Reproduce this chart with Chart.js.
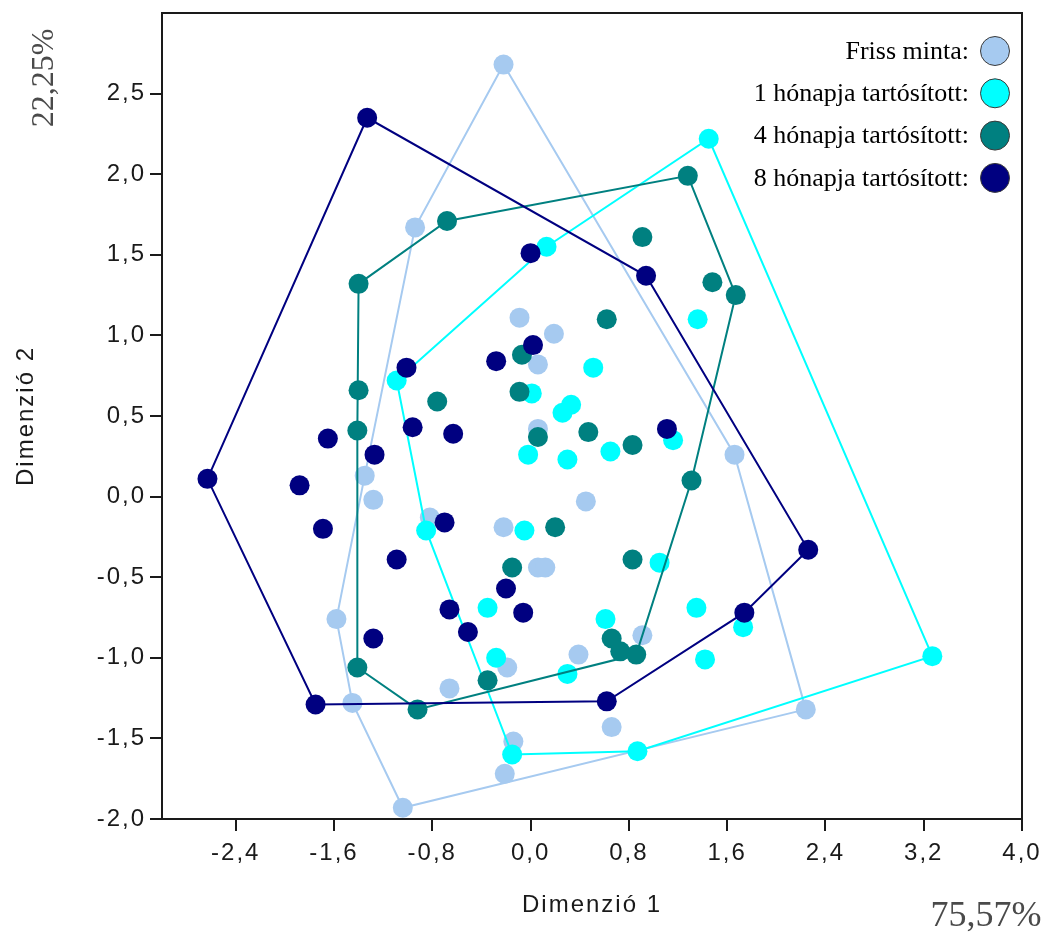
<!DOCTYPE html>
<html>
<head>
<meta charset="utf-8">
<script src="https://cdn.jsdelivr.net/npm/chart.js@4/dist/chart.umd.min.js"></script>
<style>
  html, body { margin: 0; padding: 0; background: #ffffff; }
  #wrap { width: 1049px; height: 940px; position: relative; }
</style>
</head>
<body>
<div id="wrap"><canvas id="chart" width="1049" height="940"></canvas></div>
<script>
// Group names and colours, in legend order
const seriesNames = ['Friss minta:', '1 hónapja tartósított:', '4 hónapja tartósított:', '8 hónapja tartósított:'];
const seriesColors = ['#a6caf0', '#00ffff', '#008080', '#000080'];

// Sample coordinates [Dimenzió 1, Dimenzió 2] per storage group
const frissMinta = [
  [-0.22, 2.68], [-0.94, 1.67], [-0.09, 1.11], [0.19, 1.01], [0.06, 0.82],
  [0.06, 0.42], [-1.35, 0.13], [-1.28, -0.02], [0.45, -0.03], [-0.22, -0.19],
  [0.06, -0.44], [0.12, -0.44], [-1.58, -0.76], [0.91, -0.86], [0.39, -0.98],
  [-0.19, -1.06], [-0.66, -1.19], [-1.45, -1.28], [0.66, -1.43], [-0.14, -1.52],
  [-0.21, -1.72], [-1.04, -1.93], [2.24, -1.32], [1.66, 0.26], [-0.82, -0.13]
];
const egyHonap = [
  [1.45, 2.22], [0.13, 1.55], [1.36, 1.10], [0.51, 0.80], [-1.09, 0.72],
  [0.01, 0.64], [0.26, 0.52], [0.33, 0.57], [1.16, 0.35], [0.65, 0.28],
  [0.30, 0.23], [-0.02, 0.26], [-0.85, -0.21], [-0.05, -0.21], [1.05, -0.41],
  [1.35, -0.69], [0.61, -0.76], [-0.35, -0.69], [-0.28, -1.00], [0.30, -1.10],
  [-0.15, -1.60], [0.87, -1.58], [1.42, -1.01], [1.73, -0.81], [3.27, -0.99]
];
const negyHonap = [
  [1.28, 1.99], [-0.68, 1.71], [0.91, 1.61], [1.48, 1.33], [1.67, 1.25],
  [-1.40, 1.32], [0.62, 1.10], [-0.07, 0.88], [-1.40, 0.66], [-0.76, 0.59],
  [-0.09, 0.65], [0.47, 0.40], [0.83, 0.32], [-1.41, 0.41], [0.06, 0.37],
  [1.31, 0.10], [0.20, -0.19], [-0.15, -0.44], [0.83, -0.39], [0.66, -0.88],
  [0.73, -0.96], [0.86, -0.98], [-0.35, -1.14], [-1.41, -1.06], [-0.92, -1.32]
];
const nyolcHonap = [
  [-1.33, 2.35], [0.00, 1.51], [0.94, 1.37], [0.02, 0.94], [-0.28, 0.84],
  [-1.01, 0.80], [-0.96, 0.43], [-0.63, 0.39], [-1.65, 0.36], [-1.27, 0.26],
  [1.11, 0.42], [-2.63, 0.11], [-1.88, 0.07], [-1.69, -0.20], [-0.70, -0.16],
  [2.26, -0.33], [-1.09, -0.39], [-0.66, -0.70], [-0.20, -0.57], [-0.06, -0.72],
  [-0.51, -0.84], [-1.28, -0.88], [1.74, -0.72], [-1.75, -1.29], [0.62, -1.27]
];

// Axis ranges, tick positions and explained variance
const xRange = [-3.0, 4.0];
const yRange = [-2.0, 3.0];
const xTickValues = [-2.4, -1.6, -0.8, 0.0, 0.8, 1.6, 2.4, 3.2, 4.0];
const yTickValues = [-2.0, -1.5, -1.0, -0.5, 0.0, 0.5, 1.0, 1.5, 2.0, 2.5];
const xTitle = 'Dimenzió 1';
const yTitle = 'Dimenzió 2';
const xVariance = '75,57%';
const yVariance = '22,25%';

const groups = [frissMinta, egyHonap, negyHonap, nyolcHonap];

// Convex hull (monotone chain), closed by repeating the first vertex
function convexHull(points) {
  const p = points.slice().sort((a, b) => a[0] - b[0] || a[1] - b[1]);
  const cross = (o, a, b) => (a[0] - o[0]) * (b[1] - o[1]) - (a[1] - o[1]) * (b[0] - o[0]);
  const lower = [];
  for (const q of p) {
    while (lower.length >= 2 && cross(lower[lower.length - 2], lower[lower.length - 1], q) <= 0) lower.pop();
    lower.push(q);
  }
  const upper = [];
  for (let i = p.length - 1; i >= 0; i--) {
    const q = p[i];
    while (upper.length >= 2 && cross(upper[upper.length - 2], upper[upper.length - 1], q) <= 0) upper.pop();
    upper.push(q);
  }
  lower.pop();
  upper.pop();
  const h = lower.concat(upper);
  h.push(h[0]);
  return h;
}

const toXY = arr => arr.map(([x, y]) => ({ x, y }));
const fmt = v => (Math.round(v * 10) / 10).toFixed(1).replace('.', ',');

const datasets = [];
groups.forEach((pts, i) => {
  const color = seriesColors[i];
  // later groups sit on top
  const base = (groups.length - i) * 2;
  datasets.push({
    label: seriesNames[i],
    data: toXY(pts),
    backgroundColor: color,
    borderColor: color,
    pointRadius: 10,
    pointHoverRadius: 10,
    pointBorderWidth: 0,
    showLine: false,
    order: base - 1
  });
  datasets.push({
    label: seriesNames[i] + ' hull',
    data: toXY(convexHull(pts)),
    borderColor: color,
    borderWidth: 2,
    pointRadius: 0,
    pointHoverRadius: 0,
    showLine: true,
    fill: false,
    tension: 0,
    order: base
  });
});

const sansFont = '"Liberation Sans", Arial, sans-serif';
const serifFont = '"Liberation Serif", "Times New Roman", serif';

// Wide-set axis lettering
const axisLetterSpacing = {
  id: 'axisLetterSpacing',
  beforeDraw(chart) { chart.ctx.letterSpacing = '2px'; },
  afterDatasetsDraw(chart) { chart.ctx.letterSpacing = '0px'; }
};

// Frame, key and variance labels
const decorations = {
  id: 'decorations',
  afterDraw(chart) {
    const { ctx, chartArea: a } = chart;
    ctx.save();
    ctx.letterSpacing = '0px';
    ctx.strokeStyle = '#1a1a1a';
    ctx.lineWidth = 2;
    ctx.strokeRect(a.left, a.top, a.right - a.left, a.bottom - a.top);

    // key, top right inside the plot
    ctx.font = '26px ' + serifFont;
    ctx.textAlign = 'right';
    ctx.textBaseline = 'middle';
    seriesNames.forEach((name, i) => {
      const cy = a.top + 38 + i * 42.3;
      const cx = a.right - 27;
      ctx.fillStyle = '#000000';
      ctx.fillText(name, cx - 26, cy + 1);
      ctx.beginPath();
      ctx.arc(cx, cy, 14.5, 0, Math.PI * 2);
      ctx.fillStyle = seriesColors[i];
      ctx.fill();
      ctx.lineWidth = 1;
      ctx.strokeStyle = '#3a3a3a';
      ctx.stroke();
    });

    // explained variance
    ctx.fillStyle = '#4a4a4a';
    ctx.textAlign = 'center';
    ctx.textBaseline = 'middle';
    ctx.font = '36px ' + serifFont;
    ctx.fillText(xVariance, 986, 917);
    ctx.font = '32px ' + serifFont;
    ctx.translate(45, 78);
    ctx.rotate(-Math.PI / 2);
    ctx.fillText(yVariance, 0, 0);
    ctx.restore();
  }
};

new Chart(document.getElementById('chart'), {
  type: 'scatter',
  data: { datasets },
  options: {
    responsive: false,
    animation: false,
    devicePixelRatio: 1,
    layout: { padding: { top: 13, right: 27, bottom: 0, left: 0 } },
    plugins: {
      legend: { display: false },
      tooltip: { enabled: false },
      title: { display: false }
    },
    scales: {
      x: {
        type: 'linear',
        min: xRange[0],
        max: xRange[1],
        afterBuildTicks: s => { s.ticks = xTickValues.map(v => ({ value: v })); },
        afterFit: s => { s.height = 121; s.paddingLeft = 0; s.paddingRight = 0; },
        grid: { drawOnChartArea: false, drawTicks: true, tickLength: 12, color: '#1a1a1a', lineWidth: 2 },
        border: { display: true, color: '#1a1a1a', width: 2 },
        ticks: {
          autoSkip: false, maxRotation: 0, minRotation: 0, padding: 8,
          color: '#1a1a1a', font: { family: sansFont, size: 24 },
          callback: v => fmt(v)
        },
        title: {
          display: true, text: xTitle, color: '#1a1a1a',
          font: { family: sansFont, size: 24 },
          padding: { top: 0, bottom: 20 }
        }
      },
      y: {
        type: 'linear',
        min: yRange[0],
        max: yRange[1],
        afterBuildTicks: s => { s.ticks = yTickValues.map(v => ({ value: v })); },
        afterFit: s => { s.width = 162; s.paddingTop = 0; s.paddingBottom = 0; },
        grid: { drawOnChartArea: false, drawTicks: true, tickLength: 12, color: '#1a1a1a', lineWidth: 2 },
        border: { display: true, color: '#1a1a1a', width: 2 },
        ticks: {
          autoSkip: false, padding: 4,
          color: '#1a1a1a', font: { family: sansFont, size: 24 },
          callback: v => fmt(v)
        },
        title: {
          display: true, text: yTitle, color: '#1a1a1a',
          font: { family: sansFont, size: 24 },
          padding: { top: 12, bottom: 0 }
        }
      }
    }
  },
  plugins: [axisLetterSpacing, decorations]
});
</script>
</body>
</html>
